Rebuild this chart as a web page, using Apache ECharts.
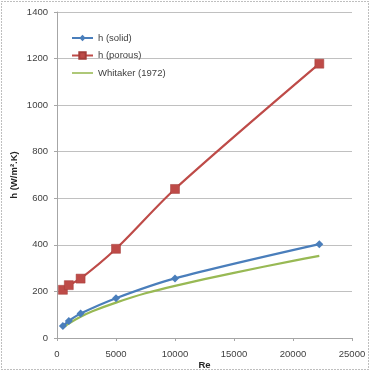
<!DOCTYPE html>
<html><head><meta charset="utf-8">
<script src="https://cdn.jsdelivr.net/npm/echarts@6/dist/echarts.min.js"></script>
<style>html,body{margin:0;padding:0;background:#fff}#c{width:371px;height:372px}</style>
</head><body><div id="c"></div>
<script>
var solidRe = [500, 1000, 2000, 5000, 10000, 22230];
var solidH = [51, 73, 105, 171, 256, 403];
var porousRe = [500, 1000, 2000, 5000, 10000, 22230];
var porousH = [207, 227, 255, 383, 640, 1178];
var whitRe = [500, 1000, 2000, 3000, 5000, 7500, 10000, 15000, 20000, 22230];
var whitH = [44, 62, 91, 115, 152, 192, 224, 280, 331, 353];
var xTicks = [0, 5000, 10000, 15000, 20000, 25000];
var yTicks = [0, 200, 400, 600, 800, 1000, 1200, 1400];

function pairs(xs, ys){ return xs.map(function(x,i){return [x, ys[i]];}); }
var FONT = 'Liberation Sans';
var chart = echarts.init(document.getElementById('c'), null, {renderer:'canvas'});
chart.setOption({
  animation:false,
  textStyle:{fontFamily:FONT},
  graphic:[{type:'rect', shape:{x:1.5,y:1.5,width:367,height:368},
    style:{fill:'none', stroke:'#7f7f7f', lineWidth:1, lineDash:[1,2]}, silent:true}],
  grid:{left:57, right:19, top:12, bottom:34, containLabel:false, outerBoundsMode:'none'},
  legend:{
    orient:'vertical', left:66, top:28, itemGap:7.5, itemWidth:21, itemHeight:8,
    textStyle:{fontFamily:FONT, fontSize:9.5, color:'#404040'},
    data:['h (solid)','h (porous)',
      {name:'Whitaker (1972)', icon:'path://M0 0H40V3H0Z'}]
  },
  xAxis:{
    type:'value', min:xTicks[0], max:xTicks[xTicks.length-1], interval:5000,
    name:'Re', nameLocation:'middle', nameGap:22, nameMoveOverlap:false,
    nameTextStyle:{fontFamily:FONT, fontSize:9.5, fontWeight:'bold', color:'#262626'},
    axisLine:{lineStyle:{color:'#a6a6a6'}},
    axisTick:{show:true, length:3, lineStyle:{color:'#a6a6a6'}},
    axisLabel:{fontFamily:FONT, fontSize:9.5, color:'#404040', margin:11,
      formatter:function(v){return String(v);}},
    splitLine:{show:false}
  },
  yAxis:{
    type:'value', min:yTicks[0], max:yTicks[yTicks.length-1], interval:200,
    name:'h (W/m\u00B2.K)', nameLocation:'middle', nameGap:38, nameRotate:90, nameMoveOverlap:false,
    nameTextStyle:{fontFamily:FONT, fontSize:9.5, fontWeight:'bold', color:'#262626'},
    axisLine:{show:true, lineStyle:{color:'#a6a6a6'}},
    axisTick:{show:true, length:3, lineStyle:{color:'#a6a6a6'}},
    axisLabel:{fontFamily:FONT, fontSize:9.5, color:'#404040', margin:9,
      formatter:function(v){return String(v);}},
    splitLine:{show:true, lineStyle:{color:'#c0c0c0', width:1}}
  },
  series:[
    {name:'h (solid)', type:'line', data:pairs(solidRe, solidH), smooth:0.3,
     symbol:'diamond', symbolSize:8, showAllSymbol:true,
     lineStyle:{color:'#4a7ebb', width:2.2}, itemStyle:{color:'#4a7ebb'}, z:3},
    {name:'h (porous)', type:'line', data:pairs(porousRe, porousH), smooth:0.3,
     symbol:'rect', symbolSize:9,
     lineStyle:{color:'#be4b48', width:2.2}, itemStyle:{color:'#be4b48', borderColor:'#a33c39', borderWidth:0.5}, z:3},
    {name:'Whitaker (1972)', type:'line', data:pairs(whitRe, whitH), smooth:0.3,
     symbol:'none', showSymbol:false,
     lineStyle:{color:'#98b954', width:2.2}, itemStyle:{color:'#98b954'}, z:2}
  ]
});
</script></body></html>
